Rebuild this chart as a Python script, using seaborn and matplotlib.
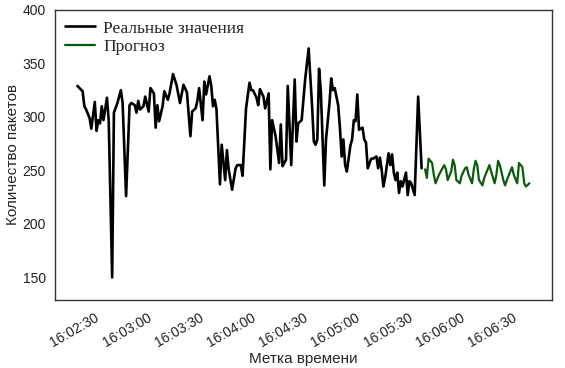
import pandas as pd
import seaborn as sns
import matplotlib
matplotlib.use("Agg")
import matplotlib.pyplot as plt
import matplotlib.dates as mdates

# seconds offset from 16:02:30 and packet counts
real_sec = [-14, -11, -10, -9, -7, -6, -4, -3, -2, -1, 0, 1, 3, 4, 6, 7, 9, 11, 12, 14,
            16, 17, 19, 20, 21, 22, 24, 25, 27, 28, 30, 31, 32, 33, 35, 36, 38, 39, 41, 43,
            45, 47, 49, 51, 52, 54, 55, 56, 58, 59, 60, 62, 63, 64, 65, 66, 68, 69, 71, 72,
            73, 75, 77, 78, 80, 81, 83, 85, 86, 87, 89, 90, 91, 93, 94, 96, 97, 98, 100, 102,
            103, 104, 106, 107, 109, 111, 112, 113, 115, 117, 119, 121, 122, 123, 124, 125, 126, 128, 129, 131,
            132, 133, 134, 136, 137, 138, 139, 140, 141, 143, 144, 145, 146, 147, 148, 150, 151, 152, 153, 155,
            156, 158, 159, 160, 161, 162, 163, 165, 166, 167, 168, 169, 170, 171, 172, 173, 175, 176, 177, 178,
            180, 182, 184]
real_val = [329, 324, 310, 307, 299, 289, 314, 287, 297, 294, 310, 297, 318, 297, 150, 304, 313, 325, 313, 226,
            311, 313, 311, 304, 315, 307, 310, 319, 305, 327, 322, 290, 311, 296, 310, 324, 316, 322, 340, 330,
            313, 330, 323, 282, 305, 308, 315, 327, 297, 333, 321, 338, 329, 310, 316, 307, 237, 274, 241, 269,
            251, 232, 252, 255, 255, 245, 308, 332, 325, 325, 318, 311, 326, 319, 308, 322, 251, 297, 282, 257,
            293, 254, 260, 329, 255, 335, 277, 294, 297, 335, 364, 310, 277, 274, 279, 345, 325, 236, 279, 313,
            336, 325, 327, 311, 290, 263, 279, 255, 249, 273, 279, 297, 296, 321, 288, 290, 279, 276, 252, 261,
            261, 263, 252, 262, 251, 235, 243, 266, 255, 265, 248, 241, 248, 229, 240, 235, 248, 227, 240, 238,
            227, 319, 252]

pred_sec = [186, 187, 188, 190, 191, 192, 194, 196, 197, 198, 199, 201, 202, 203, 204, 206, 207, 209, 210, 211,
            213, 214, 215, 216, 217, 219, 220, 222, 223, 224, 226, 227, 228, 229, 231, 232, 233, 235, 236, 237,
            239, 240, 242, 243, 244, 246]
pred_val = [251, 243, 261, 257, 246, 238, 246, 252, 255, 251, 241, 249, 260, 255, 241, 238, 245, 252, 253, 246,
            238, 251, 259, 255, 241, 236, 243, 251, 255, 249, 238, 246, 259, 255, 241, 236, 241, 249, 253, 246,
            238, 257, 253, 238, 235, 238]

base = pd.Timestamp("2024-01-01 16:02:30")
real = pd.DataFrame({"time": base + pd.to_timedelta(real_sec, unit="s"), "value": real_val})
pred = pd.DataFrame({"time": base + pd.to_timedelta(pred_sec, unit="s"), "value": pred_val})

sns.set_style("white")
plt.rcParams["font.family"] = ["Liberation Sans", "DejaVu Sans"]

fig = plt.figure(figsize=(5.65, 3.68), dpi=100)
ax = fig.add_axes([0.097, 0.185, 0.88, 0.788])

sns.lineplot(data=real, x="time", y="value", color="black", linewidth=1.9,
             label="Реальные значения", ax=ax)
sns.lineplot(data=pred, x="time", y="value", color="#0a5c0a", linewidth=1.6,
             label="Прогноз", ax=ax)

ax.set_ylim(129, 400)
ax.set_yticks([150, 200, 250, 300, 350, 400])
ax.xaxis.set_major_locator(mdates.SecondLocator(bysecond=[0, 30]))
ax.xaxis.set_major_formatter(mdates.DateFormatter("%H:%M:%S"))
ax.tick_params(axis="both", labelsize=10, colors="#222222")
ax.tick_params(axis="y", pad=3)
ax.tick_params(axis="x", pad=4)
plt.setp(ax.get_xticklabels(), rotation=30, ha="right")

ax.set_xlabel("Метка времени", fontsize=11, labelpad=2)
ax.set_ylabel("Количество пакетов", fontsize=11, labelpad=2)
for s in ax.spines.values():
    s.set_color("#333333")
    s.set_linewidth(1.0)

ax.legend(loc="upper left", frameon=False, handlelength=1.7, handletextpad=0.5,
          prop={"family": "Liberation Serif", "size": 12.5},
          borderaxespad=0.3, borderpad=0.3, labelspacing=0.15)

fig.savefig("out.png", dpi=100)
